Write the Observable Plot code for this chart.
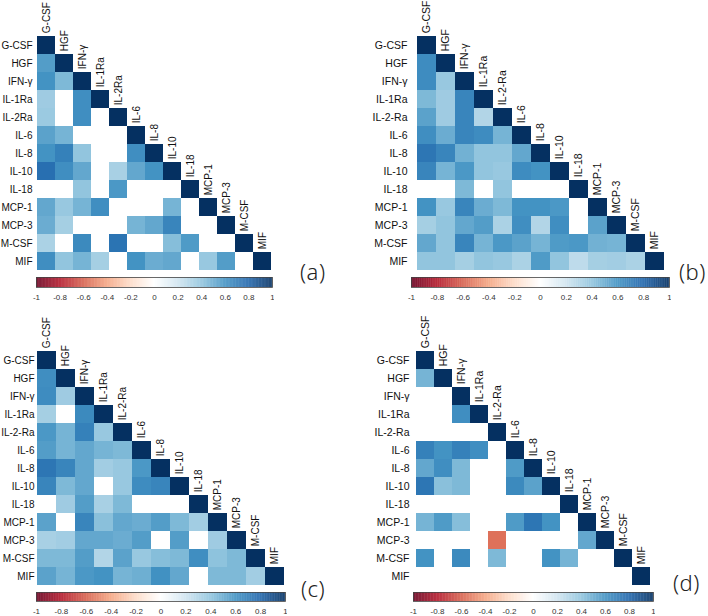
<!DOCTYPE html>
<html><head><meta charset="utf-8">
<script src="https://cdn.jsdelivr.net/npm/d3@7"></script>
<script src="https://cdn.jsdelivr.net/npm/@observablehq/plot@0.6"></script>
<style>
body{margin:0;background:#fff;}
#root{position:relative;width:708px;height:616px;overflow:hidden;background:#fff;}
#root > *{position:absolute;}
#root svg, #root svg text{font-family:"Liberation Sans", Arial, sans-serif !important;}
.tag{font-family:"Noto Sans","DejaVu Sans",sans-serif;font-weight:300;font-size:22px;color:#222;line-height:1;letter-spacing:0.5px;white-space:nowrap;}
</style></head><body><div id="root"></div>
<script>
const labelsA = ["G-CSF","HGF","IFN-γ","IL-1Ra","IL-2Ra","IL-6","IL-8","IL-10","IL-18","MCP-1","MCP-3","M-CSF","MIF"];
const labelsB = ["G-CSF","HGF","IFN-γ","IL-1Ra","IL-2-Ra","IL-6","IL-8","IL-10","IL-18","MCP-1","MCP-3","M-CSF","MIF"];

// lower-triangle correlation rows (null = not significant, blank)
const valuesA = [
  [1],
  [0.56, 1],
  [0.6, 0.45, 1],
  [0.36, null, 0.62, 1],
  [0.37, null, 0.62, null, 1],
  [0.54, 0.47, null, null, null, 1],
  [0.6, 0.68, 0.4, null, null, 0.62, 1],
  [0.76, 0.62, 0.52, null, 0.33, 0.52, 0.6, 1],
  [null, null, 0.4, null, 0.58, null, null, null, 1],
  [0.52, 0.38, 0.47, 0.62, null, null, null, 0.47, null, 1],
  [0.5, 0.34, null, null, null, 0.47, 0.52, 0.66, null, null, 1],
  [0.32, null, 0.64, null, 0.74, null, null, 0.43, 0.57, null, null, 1],
  [0.62, 0.4, 0.47, 0.34, null, 0.6, 0.5, 0.52, null, 0.38, 0.56, null, 1]
];
const valuesB = [
  [1],
  [0.63, 1],
  [0.63, 0.38, 1],
  [0.45, 0.36, 0.66, 1],
  [0.54, 0.36, 0.66, 0.3, 1],
  [0.62, 0.5, 0.66, 0.63, 0.47, 1],
  [0.73, 0.66, 0.48, 0.4, 0.4, 0.52, 1],
  [0.66, 0.47, 0.58, 0.4, 0.38, 0.63, 0.6, 1],
  [null, null, 0.45, null, 0.4, null, null, null, 1],
  [0.6, 0.38, 0.66, 0.5, 0.45, 0.6, 0.6, 0.58, null, 1],
  [0.34, 0.4, 0.52, 0.56, 0.32, 0.62, 0.3, 0.62, null, 0.54, 1],
  [0.52, 0.4, 0.66, 0.47, 0.58, 0.54, 0.47, 0.57, 0.58, 0.48, 0.47, 1],
  [0.4, 0.4, 0.34, 0.4, 0.38, 0.32, 0.57, 0.4, 0.26, 0.34, 0.35, 0.32, 1]
];
const valuesC = [
  [1],
  [0.62, 1],
  [0.63, 0.36, 1],
  [0.34, null, 0.64, 1],
  [0.58, 0.47, 0.68, 0.38, 1],
  [0.56, 0.47, 0.52, 0.47, 0.45, 1],
  [0.73, 0.66, 0.52, 0.35, 0.38, 0.58, 1],
  [0.66, 0.45, 0.52, null, 0.38, 0.63, 0.66, 1],
  [null, 0.36, 0.56, 0.33, 0.45, null, null, null, 1],
  [0.54, null, 0.66, 0.42, 0.52, 0.5, 0.56, 0.45, 0.35, 1],
  [0.33, 0.35, 0.52, 0.52, 0.5, 0.56, null, 0.56, null, 0.36, 1],
  [0.45, 0.45, 0.56, 0.3, 0.54, 0.38, 0.43, 0.45, 0.62, 0.41, 0.45, 1],
  [0.54, 0.47, 0.58, 0.6, 0.47, 0.49, 0.61, 0.52, null, 0.45, 0.45, 0.35, 1]
];
const valuesD = [
  [1],
  [0.47, 1],
  [null, null, 1],
  [null, null, 0.62, 1],
  [null, null, null, null, 1],
  [0.68, 0.6, 0.68, 0.62, null, 1],
  [0.52, 0.62, 0.45, null, null, 0.57, 1],
  [0.73, 0.42, 0.45, null, null, 0.64, 0.54, 1],
  [null, null, null, null, null, null, null, null, 1],
  [0.47, 0.57, 0.43, null, null, 0.57, 0.73, 0.6, null, 1],
  [null, null, null, null, -0.55, null, null, null, null, 0.52, 1],
  [0.6, null, 0.64, null, 0.45, null, null, 0.6, 0.47, null, null, 1],
  [null, null, null, null, null, null, null, null, null, null, null, null, 1]
];

const paletteColors = ["#67001F","#B2182B","#D6604D","#F4A582","#FDDBC7","#FFFFFF","#D1E5F0","#92C5DE","#4393C3","#2166AC","#053061"];
const barTicks = [-1, -0.8, -0.6, -0.4, -0.2, 0, 0.2, 0.4, 0.6, 0.8, 1];
const panelTags = ["(a)", "(b)", "(c)", "(d)"];

const colorScale = {type: "linear", domain: [-1, 1], interpolate: d3.piecewise(d3.interpolateRgb, paletteColors)};
const rampSteps = d3.range(-1, 1, 0.005);
const root = document.getElementById("root");

function place(node, left, top) {
  node.style.left = left + "px";
  node.style.top = top + "px";
  root.appendChild(node);
}

function panel(p) {
  const {labels, values, svgLeft, svgTop, left, top, right, bottom, barTop, barH, tag, tagX, tagY, fontSize, pad} = p;
  const cells = [];
  values.forEach((row, i) => row.forEach((v, j) => {
    if (v != null) cells.push({row: labels[i], col: labels[j], v});
  }));
  const cellH = (bottom - top) / labels.length;
  const ml = left - svgLeft;
  const width = right - svgLeft + 2;
  const heat = Plot.plot({
    width, height: bottom - svgTop + 2,
    marginLeft: ml, marginTop: top - svgTop, marginRight: 2, marginBottom: 2,
    x: {domain: labels, padding: 0, axis: null},
    y: {domain: labels, padding: 0},
    color: colorScale,
    style: {fontSize: fontSize + "px", color: "#111", background: "transparent"},
    marks: [
      Plot.cell(cells, {x: "col", y: "row", fill: "v", inset: 0}),
      Plot.axisY({tickSize: 0, tickPadding: pad, label: null, fill: "#111"}),
      Plot.text(labels, {x: d => d, y: d => d, text: d => d, rotate: -90, textAnchor: "start", lineAnchor: "middle", dy: -(cellH / 2 + 3), fill: "#111"})
    ]
  });
  place(heat, svgLeft, svgTop);

  const bar = Plot.plot({
    width, height: barH + 24,
    marginLeft: ml, marginRight: 2, marginTop: 0, marginBottom: 24,
    x: {domain: [-1, 1]},
    color: colorScale,
    style: {fontSize: "8px", background: "transparent"},
    marks: [
      Plot.rect(rampSteps, {x1: d => d, x2: d => d + 0.0065, fill: d => d + 0.0025}),
      Plot.frame({stroke: "#444", strokeWidth: 0.8}),
      Plot.axisX(barTicks, {tickSize: 0, tickPadding: 7, label: null, tickFormat: d => String(d), fill: "#333"})
    ]
  });
  place(bar, svgLeft, barTop);

  const t = document.createElement("div");
  t.className = "tag";
  t.textContent = tag;
  place(t, tagX, tagY);
}

panel({labels: labelsA, values: valuesA, svgLeft: 0, svgTop: 0, left: 36, top: 32, right: 272, bottom: 273, barTop: 277, barH: 10, tag: panelTags[0], tagX: 300, tagY: 260, fontSize: 10, pad: 4});
panel({labels: labelsB, values: valuesB, svgLeft: 354, svgTop: 0, left: 411, top: 32, right: 669, bottom: 273, barTop: 277, barH: 10, tag: panelTags[1], tagX: 679, tagY: 260, fontSize: 10.5, pad: 4});
panel({labels: labelsB, values: valuesC, svgLeft: 0, svgTop: 300, left: 36, top: 347, right: 285, bottom: 588, barTop: 592, barH: 9, tag: panelTags[2], tagX: 301, tagY: 577, fontSize: 10, pad: 2});
panel({labels: labelsB, values: valuesD, svgLeft: 354, svgTop: 300, left: 413, top: 347, right: 653, bottom: 588, barTop: 592, barH: 9, tag: panelTags[3], tagX: 673, tagY: 571, fontSize: 10.5, pad: 4});
</script>
</body></html>
